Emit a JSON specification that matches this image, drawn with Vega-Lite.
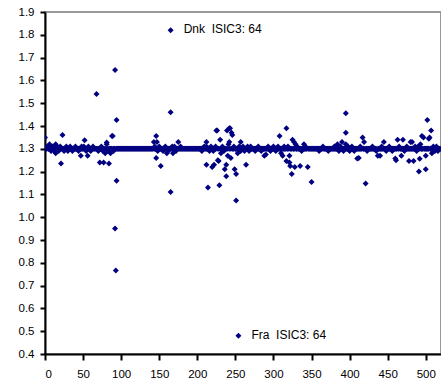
{
  "$schema": "https://vega.github.io/schema/vega-lite/v6.json",
  "width": 396,
  "height": 342,
  "autosize": {"type": "none"},
  "padding": {"left": 45, "top": 12, "right": 0, "bottom": 36},
  "background": "white",
  "config": {
    "view": {"stroke": "#999999", "strokeWidth": 2},
    "font": "Liberation Sans",
    "axis": {
      "domainColor": "black", "domainWidth": 2, "tickColor": "black", "tickWidth": 2,
      "grid": false, "labelFont": "Liberation Sans", "labelFontSize": 11.5, "labelColor": "black",
      "title": null
    }
  },
  "datasets": {
    "pts": [
      {"x":0,"y":1.3},{"x":2,"y":1.3},{"x":4,"y":1.3},{"x":6,"y":1.3},{"x":8,"y":1.3},{"x":10,"y":1.3},{"x":12,"y":1.3},{"x":14,"y":1.3},{"x":16,"y":1.3},{"x":18,"y":1.3},
      {"x":20,"y":1.3},{"x":22,"y":1.3},{"x":24,"y":1.3},{"x":26,"y":1.3},{"x":28,"y":1.3},{"x":30,"y":1.3},{"x":32,"y":1.3},{"x":34,"y":1.3},{"x":36,"y":1.3},{"x":38,"y":1.3},
      {"x":40,"y":1.3},{"x":42,"y":1.3},{"x":44,"y":1.3},{"x":46,"y":1.3},{"x":48,"y":1.3},{"x":50,"y":1.3},{"x":52,"y":1.3},{"x":54,"y":1.3},{"x":56,"y":1.3},{"x":58,"y":1.3},
      {"x":60,"y":1.3},{"x":62,"y":1.3},{"x":64,"y":1.3},{"x":66,"y":1.3},{"x":68,"y":1.3},{"x":70,"y":1.3},{"x":72,"y":1.3},{"x":74,"y":1.3},{"x":76,"y":1.3},{"x":78,"y":1.3},
      {"x":80,"y":1.3},{"x":82,"y":1.3},{"x":84,"y":1.3},{"x":86,"y":1.3},{"x":88,"y":1.3},{"x":90,"y":1.3},{"x":92,"y":1.3},{"x":94,"y":1.3},{"x":96,"y":1.3},{"x":98,"y":1.3},
      {"x":100,"y":1.3},{"x":102,"y":1.3},{"x":104,"y":1.3},{"x":106,"y":1.3},{"x":108,"y":1.3},{"x":110,"y":1.3},{"x":112,"y":1.3},{"x":114,"y":1.3},{"x":116,"y":1.3},{"x":118,"y":1.3},
      {"x":120,"y":1.3},{"x":122,"y":1.3},{"x":124,"y":1.3},{"x":126,"y":1.3},{"x":128,"y":1.3},{"x":130,"y":1.3},{"x":132,"y":1.3},{"x":134,"y":1.3},{"x":136,"y":1.3},{"x":138,"y":1.3},
      {"x":140,"y":1.3},{"x":142,"y":1.3},{"x":144,"y":1.3},{"x":146,"y":1.3},{"x":148,"y":1.3},{"x":150,"y":1.3},{"x":152,"y":1.3},{"x":154,"y":1.3},{"x":156,"y":1.3},{"x":158,"y":1.3},
      {"x":160,"y":1.3},{"x":162,"y":1.3},{"x":164,"y":1.3},{"x":166,"y":1.3},{"x":168,"y":1.3},{"x":170,"y":1.3},{"x":172,"y":1.3},{"x":174,"y":1.3},{"x":176,"y":1.3},{"x":178,"y":1.3},
      {"x":180,"y":1.3},{"x":182,"y":1.3},{"x":184,"y":1.3},{"x":186,"y":1.3},{"x":188,"y":1.3},{"x":190,"y":1.3},{"x":192,"y":1.3},{"x":194,"y":1.3},{"x":196,"y":1.3},{"x":198,"y":1.3},
      {"x":200,"y":1.3},{"x":202,"y":1.3},{"x":204,"y":1.3},{"x":206,"y":1.3},{"x":208,"y":1.3},{"x":210,"y":1.3},{"x":212,"y":1.3},{"x":214,"y":1.3},{"x":216,"y":1.3},{"x":218,"y":1.3},
      {"x":220,"y":1.3},{"x":222,"y":1.3},{"x":224,"y":1.3},{"x":226,"y":1.3},{"x":228,"y":1.3},{"x":230,"y":1.3},{"x":232,"y":1.3},{"x":234,"y":1.3},{"x":236,"y":1.3},{"x":238,"y":1.3},
      {"x":240,"y":1.3},{"x":242,"y":1.3},{"x":244,"y":1.3},{"x":246,"y":1.3},{"x":248,"y":1.3},{"x":250,"y":1.3},{"x":252,"y":1.3},{"x":254,"y":1.3},{"x":256,"y":1.3},{"x":258,"y":1.3},
      {"x":260,"y":1.3},{"x":262,"y":1.3},{"x":264,"y":1.3},{"x":266,"y":1.3},{"x":268,"y":1.3},{"x":270,"y":1.3},{"x":272,"y":1.3},{"x":274,"y":1.3},{"x":276,"y":1.3},{"x":278,"y":1.3},
      {"x":280,"y":1.3},{"x":282,"y":1.3},{"x":284,"y":1.3},{"x":286,"y":1.3},{"x":288,"y":1.3},{"x":290,"y":1.3},{"x":292,"y":1.3},{"x":294,"y":1.3},{"x":296,"y":1.3},{"x":298,"y":1.3},
      {"x":300,"y":1.3},{"x":302,"y":1.3},{"x":304,"y":1.3},{"x":306,"y":1.3},{"x":308,"y":1.3},{"x":310,"y":1.3},{"x":312,"y":1.3},{"x":314,"y":1.3},{"x":316,"y":1.3},{"x":318,"y":1.3},
      {"x":320,"y":1.3},{"x":322,"y":1.3},{"x":324,"y":1.3},{"x":326,"y":1.3},{"x":328,"y":1.3},{"x":330,"y":1.3},{"x":332,"y":1.3},{"x":334,"y":1.3},{"x":336,"y":1.3},{"x":338,"y":1.3},
      {"x":340,"y":1.3},{"x":342,"y":1.3},{"x":344,"y":1.3},{"x":346,"y":1.3},{"x":348,"y":1.3},{"x":350,"y":1.3},{"x":352,"y":1.3},{"x":354,"y":1.3},{"x":356,"y":1.3},{"x":358,"y":1.3},
      {"x":360,"y":1.3},{"x":362,"y":1.3},{"x":364,"y":1.3},{"x":366,"y":1.3},{"x":368,"y":1.3},{"x":370,"y":1.3},{"x":372,"y":1.3},{"x":374,"y":1.3},{"x":376,"y":1.3},{"x":378,"y":1.3},
      {"x":380,"y":1.3},{"x":382,"y":1.3},{"x":384,"y":1.3},{"x":386,"y":1.3},{"x":388,"y":1.3},{"x":390,"y":1.3},{"x":392,"y":1.3},{"x":394,"y":1.3},{"x":396,"y":1.3},{"x":398,"y":1.3},
      {"x":400,"y":1.3},{"x":402,"y":1.3},{"x":404,"y":1.3},{"x":406,"y":1.3},{"x":408,"y":1.3},{"x":410,"y":1.3},{"x":412,"y":1.3},{"x":414,"y":1.3},{"x":416,"y":1.3},{"x":418,"y":1.3},
      {"x":420,"y":1.3},{"x":422,"y":1.3},{"x":424,"y":1.3},{"x":426,"y":1.3},{"x":428,"y":1.3},{"x":430,"y":1.3},{"x":432,"y":1.3},{"x":434,"y":1.3},{"x":436,"y":1.3},{"x":438,"y":1.3},
      {"x":440,"y":1.3},{"x":442,"y":1.3},{"x":444,"y":1.3},{"x":446,"y":1.3},{"x":448,"y":1.3},{"x":450,"y":1.3},{"x":452,"y":1.3},{"x":454,"y":1.3},{"x":456,"y":1.3},{"x":458,"y":1.3},
      {"x":460,"y":1.3},{"x":462,"y":1.3},{"x":464,"y":1.3},{"x":466,"y":1.3},{"x":468,"y":1.3},{"x":470,"y":1.3},{"x":472,"y":1.3},{"x":474,"y":1.3},{"x":476,"y":1.3},{"x":478,"y":1.3},
      {"x":480,"y":1.3},{"x":482,"y":1.3},{"x":484,"y":1.3},{"x":486,"y":1.3},{"x":488,"y":1.3},{"x":490,"y":1.3},{"x":492,"y":1.3},{"x":494,"y":1.3},{"x":496,"y":1.3},{"x":498,"y":1.3},
      {"x":500,"y":1.3},{"x":502,"y":1.3},{"x":504,"y":1.3},{"x":506,"y":1.3},{"x":508,"y":1.3},{"x":510,"y":1.3},{"x":512,"y":1.3},{"x":514,"y":1.3},{"x":516,"y":1.3},{"x":518,"y":1.3},
      {"x":1,"y":1.3},{"x":5,"y":1.3},{"x":7,"y":1.3},{"x":9,"y":1.3},{"x":11,"y":1.3},{"x":13,"y":1.3},{"x":15,"y":1.3},{"x":17,"y":1.3},{"x":19,"y":1.3},
      {"x":27,"y":1.3},{"x":29,"y":1.3},{"x":31,"y":1.3},{"x":35,"y":1.3},{"x":37,"y":1.3},{"x":39,"y":1.3},{"x":41,"y":1.3},{"x":43,"y":1.3},{"x":45,"y":1.3},{"x":49,"y":1.3},
      {"x":53,"y":1.3},{"x":55,"y":1.3},{"x":59,"y":1.3},{"x":61,"y":1.3},{"x":65,"y":1.3},{"x":69,"y":1.3},{"x":71,"y":1.3},{"x":73,"y":1.3},{"x":75,"y":1.3},{"x":85,"y":1.3},
      {"x":87,"y":1.3},{"x":91,"y":1.3},{"x":95,"y":1.3},{"x":97,"y":1.3},{"x":99,"y":1.3},{"x":101,"y":1.3},{"x":103,"y":1.3},{"x":105,"y":1.3},{"x":107,"y":1.3},{"x":109,"y":1.3},
      {"x":111,"y":1.3},{"x":113,"y":1.3},{"x":115,"y":1.3},{"x":117,"y":1.3},{"x":119,"y":1.3},{"x":121,"y":1.3},{"x":123,"y":1.3},{"x":125,"y":1.3},{"x":127,"y":1.3},{"x":129,"y":1.3},
      {"x":131,"y":1.3},{"x":133,"y":1.3},{"x":135,"y":1.3},{"x":137,"y":1.3},{"x":139,"y":1.3},{"x":141,"y":1.3},{"x":145,"y":1.3},{"x":149,"y":1.3},{"x":151,"y":1.3},{"x":153,"y":1.3},
      {"x":157,"y":1.3},{"x":159,"y":1.3},{"x":161,"y":1.3},{"x":163,"y":1.3},{"x":169,"y":1.3},{"x":171,"y":1.3},{"x":173,"y":1.3},{"x":177,"y":1.3},{"x":179,"y":1.3},{"x":181,"y":1.3},
      {"x":183,"y":1.3},{"x":185,"y":1.3},{"x":187,"y":1.3},{"x":189,"y":1.3},{"x":191,"y":1.3},{"x":193,"y":1.3},{"x":195,"y":1.3},{"x":197,"y":1.3},{"x":199,"y":1.3},{"x":201,"y":1.3},
      {"x":203,"y":1.3},{"x":205,"y":1.3},{"x":207,"y":1.3},{"x":211,"y":1.3},{"x":213,"y":1.3},{"x":215,"y":1.3},{"x":217,"y":1.3},{"x":223,"y":1.3},{"x":232,"y":1.3},{"x":234,"y":1.3},
      {"x":237,"y":1.3},{"x":247,"y":1.3},{"x":250,"y":1.3},{"x":252,"y":1.3},{"x":256,"y":1.3},{"x":259,"y":1.3},{"x":261,"y":1.3},{"x":263,"y":1.3},{"x":265,"y":1.3},{"x":267,"y":1.3},
      {"x":269,"y":1.3},{"x":271,"y":1.3},{"x":273,"y":1.3},{"x":275,"y":1.3},{"x":277,"y":1.3},{"x":279,"y":1.3},{"x":281,"y":1.3},{"x":283,"y":1.3},{"x":285,"y":1.3},{"x":287,"y":1.3},
      {"x":289,"y":1.3},{"x":291,"y":1.3},{"x":295,"y":1.3},{"x":297,"y":1.3},{"x":299,"y":1.3},{"x":301,"y":1.3},{"x":305,"y":1.3},{"x":307,"y":1.3},{"x":309,"y":1.3},{"x":311,"y":1.3},
      {"x":313,"y":1.3},{"x":315,"y":1.3},{"x":318,"y":1.3},{"x":323,"y":1.3},{"x":326,"y":1.3},{"x":330,"y":1.3},{"x":333,"y":1.3},{"x":336,"y":1.3},{"x":339,"y":1.3},{"x":341,"y":1.3},
      {"x":343,"y":1.3},{"x":347,"y":1.3},{"x":349,"y":1.3},{"x":351,"y":1.3},{"x":353,"y":1.3},{"x":355,"y":1.3},{"x":357,"y":1.3},{"x":359,"y":1.3},{"x":361,"y":1.3},{"x":363,"y":1.3},
      {"x":367,"y":1.3},{"x":369,"y":1.3},{"x":371,"y":1.3},{"x":373,"y":1.3},{"x":375,"y":1.3},{"x":377,"y":1.3},{"x":379,"y":1.3},{"x":381,"y":1.3},{"x":383,"y":1.3},{"x":385,"y":1.3},
      {"x":387,"y":1.3},{"x":389,"y":1.3},{"x":391,"y":1.3},{"x":393,"y":1.3},{"x":397,"y":1.3},{"x":399,"y":1.3},{"x":401,"y":1.3},{"x":405,"y":1.3},{"x":407,"y":1.3},{"x":409,"y":1.3},
      {"x":411,"y":1.3},{"x":413,"y":1.3},{"x":415,"y":1.3},{"x":418,"y":1.3},{"x":422,"y":1.3},{"x":425,"y":1.3},{"x":427,"y":1.3},{"x":429,"y":1.3},{"x":431,"y":1.3},{"x":433,"y":1.3},
      {"x":439,"y":1.3},{"x":441,"y":1.3},{"x":443,"y":1.3},{"x":447,"y":1.3},{"x":449,"y":1.3},{"x":451,"y":1.3},{"x":453,"y":1.3},{"x":455,"y":1.3},{"x":457,"y":1.3},{"x":459,"y":1.3},
      {"x":462,"y":1.3},{"x":467,"y":1.3},{"x":469,"y":1.3},{"x":471,"y":1.3},{"x":473,"y":1.3},{"x":477,"y":1.3},{"x":479,"y":1.3},{"x":481,"y":1.3},{"x":483,"y":1.3},{"x":485,"y":1.3},
      {"x":487,"y":1.3},{"x":489,"y":1.3},{"x":494,"y":1.3},{"x":496,"y":1.3},{"x":499,"y":1.3},{"x":501,"y":1.3},{"x":503,"y":1.3},{"x":506,"y":1.3},{"x":509,"y":1.3},{"x":511,"y":1.3},
      {"x":513,"y":1.3},{"x":515,"y":1.3},{"x":517,"y":1.3},{"x":519,"y":1.3},
      {"x":0,"y":1.35},{"x":3,"y":1.31},{"x":6,"y":1.32},{"x":8,"y":1.29},{"x":10,"y":1.31},{"x":12,"y":1.29},{"x":14,"y":1.32},{"x":14,"y":1.28},{"x":16,"y":1.31},{"x":18,"y":1.29},
      {"x":20,"y":1.31},{"x":21,"y":1.235},{"x":23,"y":1.36},{"x":25,"y":1.29},{"x":28,"y":1.31},{"x":30,"y":1.29},{"x":33,"y":1.31},{"x":36,"y":1.29},{"x":40,"y":1.31},{"x":44,"y":1.29},
      {"x":47,"y":1.27},{"x":48,"y":1.31},{"x":51,"y":1.31},{"x":52,"y":1.337},{"x":54,"y":1.29},{"x":56,"y":1.27},{"x":57,"y":1.31},{"x":60,"y":1.29},{"x":63,"y":1.31},
      {"x":67.6,"y":1.54},{"x":70,"y":1.29},{"x":72,"y":1.24},{"x":74,"y":1.31},{"x":76,"y":1.29},{"x":77,"y":1.24},{"x":79,"y":1.28},{"x":81,"y":1.32},{"x":81,"y":1.328},{"x":83,"y":1.29},
      {"x":84,"y":1.235},{"x":86,"y":1.28},{"x":88,"y":1.356},{"x":89,"y":1.356},{"x":90,"y":1.29},{"x":92,"y":1.646},{"x":92,"y":0.95},{"x":93,"y":0.766},{"x":94,"y":1.426},{"x":94,"y":1.16},
      {"x":143,"y":1.33},{"x":144,"y":1.31},{"x":146,"y":1.356},{"x":147,"y":1.33},{"x":146,"y":1.26},{"x":148,"y":1.29},{"x":150,"y":1.31},{"x":152,"y":1.225},{"x":155,"y":1.29},{"x":158,"y":1.31},
      {"x":160,"y":1.28},{"x":162,"y":1.29},{"x":165,"y":1.46},{"x":165,"y":1.11},{"x":165,"y":1.82},{"x":167,"y":1.31},{"x":168,"y":1.28},{"x":170,"y":1.31},{"x":172,"y":1.29},{"x":175,"y":1.33},{"x":178,"y":1.31},
      {"x":206,"y":1.29},{"x":209,"y":1.31},{"x":212,"y":1.33},{"x":212,"y":1.31},{"x":212,"y":1.23},{"x":214,"y":1.13},{"x":216,"y":1.29},{"x":218,"y":1.31},{"x":219.5,"y":1.22},{"x":221,"y":1.29},
      {"x":222,"y":1.23},{"x":224,"y":1.31},{"x":225,"y":1.38},{"x":226,"y":1.38},{"x":227,"y":1.25},{"x":228,"y":1.246},{"x":229,"y":1.14},{"x":230,"y":1.34},{"x":231,"y":1.28},{"x":233,"y":1.31},
      {"x":235,"y":1.29},{"x":236,"y":1.21},{"x":238,"y":1.23},{"x":238,"y":1.18},{"x":239,"y":1.38},{"x":240,"y":1.27},{"x":241,"y":1.32},{"x":242,"y":1.39},{"x":243,"y":1.39},{"x":242,"y":1.33},
      {"x":244,"y":1.26},{"x":245,"y":1.37},{"x":246,"y":1.36},{"x":248,"y":1.31},{"x":249,"y":1.21},{"x":251,"y":1.19},{"x":251,"y":1.073},{"x":254,"y":0.48},{"x":253,"y":1.28},{"x":255,"y":1.31},
      {"x":257,"y":1.33},{"x":257,"y":1.29},{"x":260,"y":1.31},{"x":262,"y":1.29},{"x":264,"y":1.23},{"x":266,"y":1.31},{"x":268,"y":1.29},{"x":270,"y":1.31},
      {"x":276,"y":1.29},{"x":280,"y":1.31},{"x":284,"y":1.29},{"x":288,"y":1.27},{"x":290,"y":1.275},{"x":293,"y":1.31},{"x":296,"y":1.29},{"x":300,"y":1.31},
      {"x":303,"y":1.29},{"x":306,"y":1.31},{"x":308,"y":1.356},{"x":310,"y":1.28},{"x":312,"y":1.27},{"x":314,"y":1.31},{"x":317,"y":1.39},{"x":317,"y":1.246},{"x":319,"y":1.31},{"x":321,"y":1.24},
      {"x":321,"y":1.27},{"x":322,"y":1.225},{"x":324,"y":1.19},{"x":325,"y":1.34},{"x":327,"y":1.33},{"x":328,"y":1.22},{"x":329,"y":1.32},{"x":331,"y":1.31},{"x":335,"y":1.225},{"x":337,"y":1.29},
      {"x":340,"y":1.32},{"x":342,"y":1.31},{"x":345,"y":1.22},{"x":350,"y":1.154},
      {"x":360,"y":1.29},{"x":365,"y":1.31},{"x":372,"y":1.29},
      {"x":380,"y":1.31},{"x":384,"y":1.32},{"x":386,"y":1.29},{"x":388,"y":1.31},{"x":390,"y":1.33},{"x":392,"y":1.29},{"x":395,"y":1.456},{"x":395,"y":1.37},{"x":395,"y":1.32},{"x":398,"y":1.31},
      {"x":400,"y":1.29},{"x":403,"y":1.31},{"x":406,"y":1.29},{"x":410,"y":1.258},{"x":412,"y":1.26},{"x":414,"y":1.31},{"x":417,"y":1.35},{"x":419,"y":1.33},{"x":421,"y":1.148},{"x":423,"y":1.29},
      {"x":430,"y":1.31},{"x":435,"y":1.29},
      {"x":437,"y":1.27},{"x":440,"y":1.27},{"x":442,"y":1.31},{"x":445,"y":1.33},{"x":448,"y":1.29},{"x":452,"y":1.31},{"x":456,"y":1.29},{"x":460,"y":1.258},{"x":461,"y":1.25},{"x":463,"y":1.34},
      {"x":465,"y":1.31},{"x":468,"y":1.27},{"x":470,"y":1.34},{"x":472,"y":1.29},{"x":475,"y":1.31},{"x":478,"y":1.246},{"x":480,"y":1.33},{"x":482,"y":1.33},{"x":484,"y":1.246},{"x":486,"y":1.31},
      {"x":488,"y":1.29},{"x":490,"y":1.31},{"x":491,"y":1.2},{"x":492,"y":1.256},{"x":493,"y":1.32},{"x":495,"y":1.356},{"x":497,"y":1.35},{"x":500,"y":1.21},{"x":500,"y":1.27},{"x":502,"y":1.426},
      {"x":504,"y":1.344},{"x":505,"y":1.35},{"x":507,"y":1.38},{"x":508,"y":1.28},{"x":510,"y":1.31},{"x":512,"y":1.29},{"x":514,"y":1.31},{"x":516,"y":1.29}
    ],
    "labels": [
      {"x":165,"y":1.82,"label":"Dnk\u00a0 ISIC3: 64"},
      {"x":254,"y":0.48,"label":"Fra\u00a0 ISIC3: 64"}
    ]
  },
  "encoding": {
    "x": {"field": "x", "type": "quantitative",
      "scale": {"domain": [0, 520], "nice": false, "zero": false},
      "axis": {"values": [0,50,100,150,200,250,300,350,400,450,500], "tickSize": 6, "labelPadding": 8}},
    "y": {"field": "y", "type": "quantitative",
      "scale": {"domain": [0.4, 1.9], "nice": false, "zero": false},
      "axis": {"values": [0.4,0.5,0.6,0.7,0.8,0.9,1.0,1.1,1.2,1.3,1.4,1.5,1.6,1.7,1.8,1.9], "format": ".1f", "tickSize": 5, "labelPadding": 6}}
  },
  "layer": [
    {
      "data": {"name": "pts"},
      "mark": {"type": "point", "shape": "diamond", "filled": true, "size": 36, "color": "#000080", "opacity": 1, "clip": true}
    },
    {
      "data": {"name": "labels"},
      "mark": {"type": "text", "align": "left", "baseline": "middle", "dx": 13, "dy": -1, "font": "Liberation Sans", "fontSize": 12, "color": "black"},
      "encoding": {"text": {"field": "label"}}
    }
  ]
}
